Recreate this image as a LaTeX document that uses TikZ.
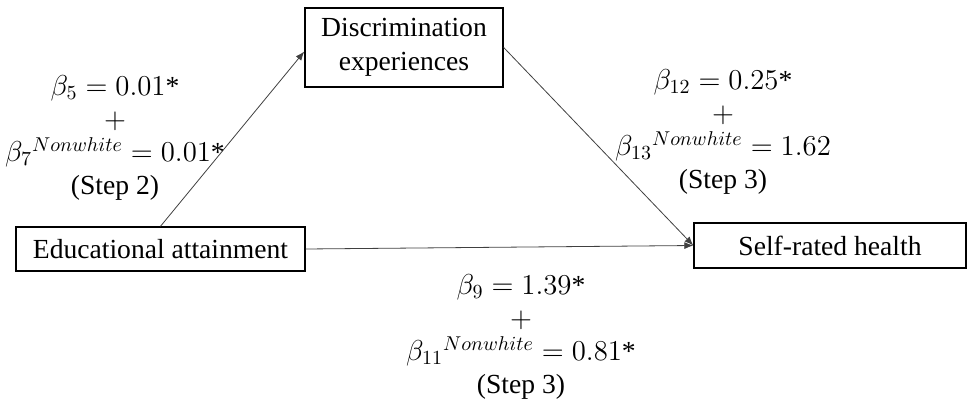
\documentclass[tikz,border=0pt]{standalone}
\usepackage{fontspec}
\setmainfont{Liberation Serif}
\usetikzlibrary{calc,arrows.meta}
\tikzset{
  box/.style={draw=black, line width=0.7pt, inner sep=0pt, align=center, font=\fontsize{13.8}{17}\selectfont},
  lab/.style={align=center, inner sep=0pt, font=\fontsize{13.8}{16.5}\selectfont},
  conn/.style={draw=black!75, line width=0.4pt, -{Latex[length=4.5pt,width=3.5pt]}}
}
\begin{document}
\begin{tikzpicture}[x=0.5pt,y=-0.5pt]
\useasboundingbox (0,0) rectangle (970,402);
\node[box, minimum width=99pt, minimum height=39.5pt] (disc) at (404,47.5) {Discrimination\\experiences};
\node[box, minimum width=144.5pt, minimum height=22pt] (edu) at (160.5,249) {Educational attainment};
\node[box, minimum width=136pt, minimum height=22.5pt] (self) at (830,245.5) {Self-rated health};
\draw[conn] (edu.north) -- ($(disc.west)+(0,4)$);
\draw[conn] (disc.east) -- (self.west);
\draw[conn] (edu.east) -- (self.west);
\node[lab] (l1) at (115,138) {$\beta_5 = 0.01\mbox{*}$\\$+$\\$\beta_7{}^{Nonwhite} = 0.01\mbox{*}$\\(Step 2)};
\node[lab] (l2) at (723,132) {$\beta_{12} = 0.25\mbox{*}$\\$+$\\$\beta_{13}{}^{Nonwhite} = 1.62$\\(Step 3)};
\node[lab] (l3) at (521,337) {$\beta_9 = 1.39\mbox{*}$\\$+$\\$\beta_{11}{}^{Nonwhite} = 0.81\mbox{*}$\\(Step 3)};
\end{tikzpicture}
\end{document}
